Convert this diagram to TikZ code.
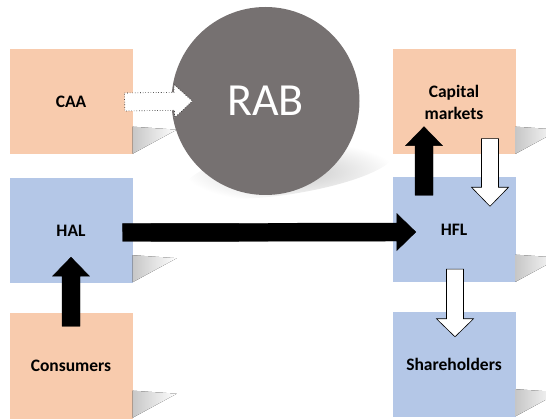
\documentclass[tikz,border=0pt]{standalone}
\usepackage{fontspec}
\setmainfont{Carlito}
\usetikzlibrary{calc}

\definecolor{peach}{HTML}{F8CBAD}
\definecolor{paleblue}{HTML}{B4C7E7}
\definecolor{rabgray}{HTML}{767171}

\begin{document}
\begin{tikzpicture}[x=1pt,y=-1pt]
            \tikzset{box/.style={minimum width=123pt, minimum height=105pt, inner sep=2pt, align=center, font=\fontsize{17.5}{22}\selectfont\bfseries}};
            \tikzset{boxshadow/.style={left color=black!22, right color=white}};
            \tikzset{arrshaft/.store in=\shafthw, arrhead/.store in=\headhw, arrlen/.store in=\headlen,
                     arrshaft=9pt, arrhead=18.5pt, arrlen=19pt};
            \tikzset{blockarrow/.style={to path={
                let \p1=(\tikztostart), \p2=(\tikztotarget), \p3=($(\p2)!\headlen!(\p1)$) in
                ($(\p1)!\shafthw!90:(\p2)$) -- ($(\p3)!\shafthw!90:(\p2)$) -- ($(\p3)!\headhw!90:(\p2)$)
                -- (\p2) -- ($(\p3)!\headhw!-90:(\p2)$) -- ($(\p3)!\shafthw!-90:(\p2)$)
                -- ($(\p1)!\shafthw!-90:(\p2)$) -- cycle}}};
            \tikzset{solidarrow/.style={blockarrow, fill=black, draw=black}};
            \tikzset{hollowarrow/.style={blockarrow, fill=white, draw=black, line width=0.6pt}};

            \useasboundingbox (0,0) rectangle (546,419);

            % circle shadow
            \shade[inner color=gray!45, outer color=white, rotate around={9:(290,170)}]
                (290,170) ellipse (105 and 24);

            \node[box, fill=peach] (caa) at (71,102) {CAA};
            \node[box, fill=paleblue] (hal) at (71,230.5) {HAL};
            \node[box, fill=peach] (consumers) at (71,366) {Consumers};
            \node[box, fill=peach] (capital) at (454,102) {Capital\\markets};
            \node[box, fill=paleblue] (hfl) at (454,230) {HFL};
            \node[box, fill=paleblue] (share) at (454,364.5) {Shareholders};

            \foreach \b in {caa,hal,consumers,capital,hfl,share}
                \fill[boxshadow] ([yshift=28pt]\b.south east) -- ++(44,3) -- ([yshift=1pt]\b.south east) -- cycle;

            \node[circle, fill=rabgray, minimum size=188pt, text=white, font=\fontsize{46}{50}\selectfont] (rab) at (265.5,101) {RAB};

            \coordinate (caaout) at ([xshift=-8pt]caa.east);
            \coordinate (rabin) at ([xshift=21pt]rab.west);
            \draw[hollowarrow, dotted, arrhead=16.5pt, arrlen=18pt] (caaout) to (rabin);

            \draw[solidarrow] ([xshift=-10pt,yshift=-2pt]hal.east) to ([xshift=23.5pt,yshift=-2pt]hfl.west);
            \draw[solidarrow] ([yshift=-13pt]consumers.north) to ([yshift=26pt]hal.south);
            \draw[solidarrow] ([xshift=-30pt,yshift=-18pt]hfl.north) to ([xshift=-30pt,yshift=28pt]capital.south);
            \draw[hollowarrow, arrshaft=8.5pt] ([xshift=36pt,yshift=16pt]capital.south) to ([xshift=36pt,yshift=-29pt]hfl.north);
            \draw[hollowarrow, arrshaft=8.5pt, arrlen=18pt] ([xshift=1pt,yshift=13.5pt]hfl.south) to ([xshift=1pt,yshift=-25pt]share.north);
        \end{tikzpicture}
\end{document}
